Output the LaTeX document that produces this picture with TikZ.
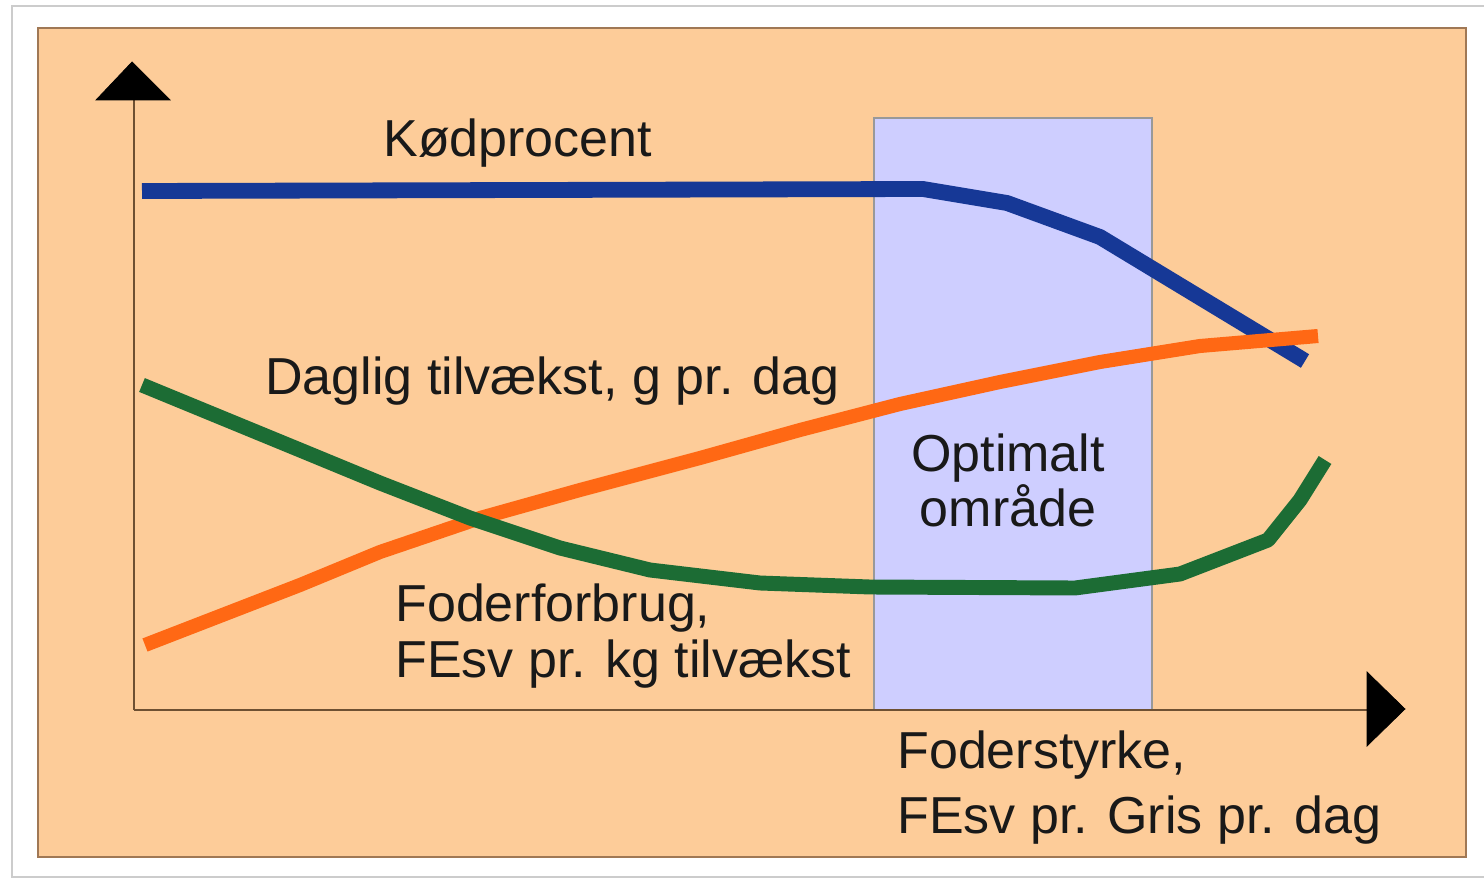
\documentclass[tikz,border=0pt]{standalone}
\usepackage{fontspec}
\setmainfont{Liberation Sans}
\usepackage{xcolor}
\usepackage{tikz}
\definecolor{panel}{RGB}{253,204,153}
\definecolor{panelline}{RGB}{160,120,85}
\definecolor{optbox}{RGB}{206,206,255}
\definecolor{kodblue}{RGB}{22,56,150}
\definecolor{vaekstorange}{RGB}{255,104,20}
\definecolor{fodergreen}{RGB}{28,108,52}
\definecolor{axisbrown}{RGB}{110,80,50}
\tikzset{lbl/.style={font=\fontsize{29.6pt}{35pt}\selectfont,inner sep=0pt,text=black!90},
  curve/.style={line join=round}}

\begin{document}
\begin{tikzpicture}[x=0.02cm,y=-0.02cm]
        \useasboundingbox (0,0) rectangle (1484,878);
        \fill[white] (0,0) rectangle (1484,878);
        \draw[black!20,line width=1.2pt] (12,6) rectangle (1500,877);
        \filldraw[fill=panel,draw=panelline,line width=1pt] (38,28) rectangle (1466,857);
        \filldraw[fill=optbox,draw=black!40,line width=1.5pt] (874,118) rectangle (1152,710);
        \coordinate (origo) at (134,710);
        \draw[axisbrown,line width=1.2pt] (origo)--(134,100);
        \draw[axisbrown,line width=1.2pt] (origo)--(1367,710);
        \filldraw[black] (96,100)--(132,62)--(170,100)--cycle;
        \filldraw[black] (1367,672)--(1405,709)--(1367,746)--cycle;
        \draw[curve,line width=9pt,kodblue] (142,191)--(923,189)--(1007,203)--(1100,237)--(1305,361);
        \draw[curve,line width=8pt,vaekstorange] (145,645)--(300,585)--(380,552)--(480,518)--(580,490)--(700,458)--(800,430)--(900,404)--(1000,382)--(1100,362)--(1200,346)--(1318,336);
        \draw[curve,line width=8.5pt,fodergreen] (142,385)--(300,450)--(380,483)--(470,518)--(560,548)--(650,570)--(760,583)--(870,587)--(1075,588)--(1180,574)--(1268,540)--(1300,500)--(1325,460);
        \node[lbl,anchor=base west] (kod) at (383,157) {Kødprocent};
        \node[lbl,anchor=base west] (daglig) at (265,395) {Daglig tilvækst, g pr. dag};
        \node[lbl,anchor=north,align=center,font=\fontsize{29.6pt}{31.3pt}\selectfont] (optimalt) at (1008,433) {Optimalt\\område};
        \node[lbl,anchor=north west,align=left,font=\fontsize{29.6pt}{32.4pt}\selectfont] (foderforbrug) at (395,583) {Foderforbrug,\\FEsv pr. kg tilvækst};
        \node[lbl,anchor=north west,align=left,font=\fontsize{29.6pt}{37pt}\selectfont] (foderstyrke) at (897,730) {Foderstyrke,\\FEsv pr. Gris pr. dag};
    \end{tikzpicture}
\end{document}
